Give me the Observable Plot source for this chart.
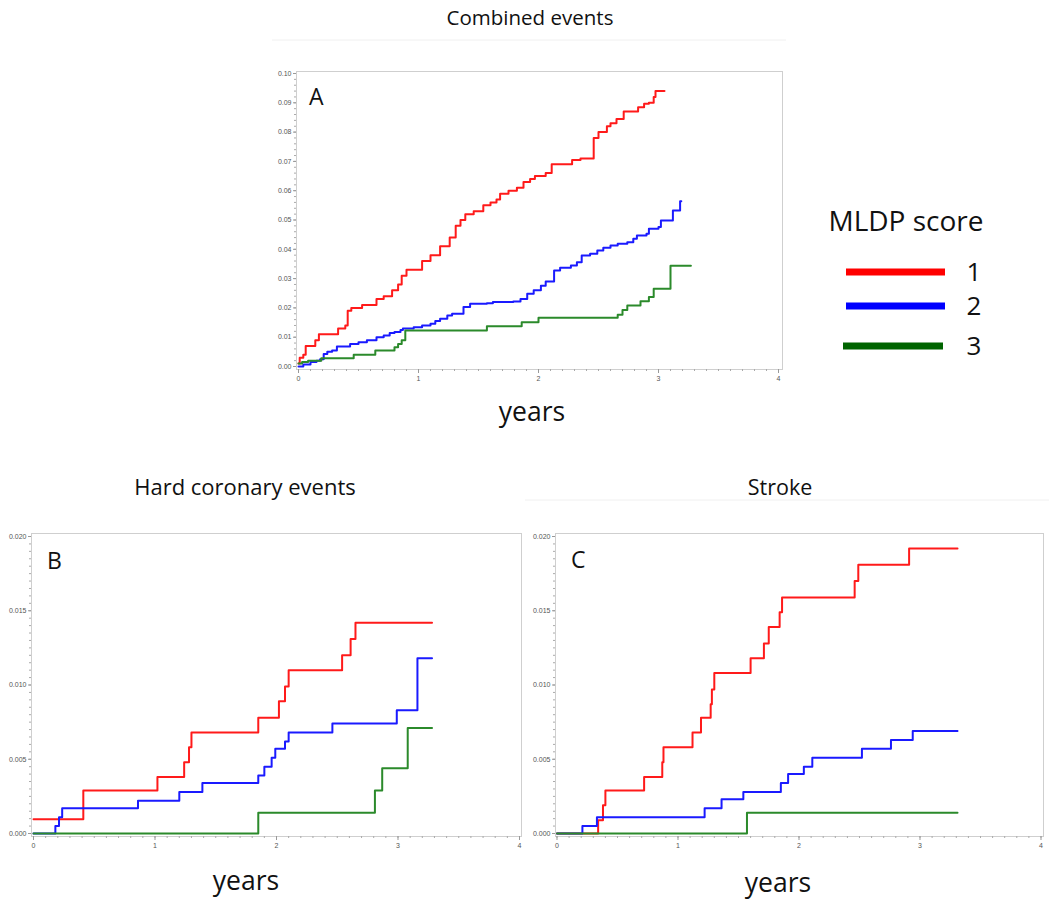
<!DOCTYPE html>
<html><head><meta charset="utf-8">
<script src="https://cdn.jsdelivr.net/npm/d3@7"></script>
<script src="https://cdn.jsdelivr.net/npm/@observablehq/plot@0.6"></script>
<style>
body{margin:0;background:#fff;}
#page{position:relative;width:1049px;height:900px;overflow:hidden;font-family:"Open Sans",sans-serif;background:#fff;}
.panel{position:absolute;}
#overlay{position:absolute;left:0;top:0;pointer-events:none;}
</style></head><body><div id="page"></div>
<script>
// ---------- data ----------
const groups = ["1", "2", "3"];
const lineColors = ["#ff1a1a", "#1a1aff", "#2b8a2b"];
const legendColors = ["#ff0000", "#0000ff", "#006400"];
const xTicks = [0, 1, 2, 3, 4];
const aYTicks = [0, 0.01, 0.02, 0.03, 0.04, 0.05, 0.06, 0.07, 0.08, 0.09, 0.10];
const bcYTicks = [0, 0.005, 0.010, 0.015, 0.020];

// Panel A: Combined events
const aRedT = [0, 0.01, 0.04, 0.06, 0.14, 0.17, 0.33, 0.39, 0.41, 0.44, 0.53, 0.65, 0.71, 0.78, 0.83, 0.86, 0.90, 1.03, 1.10, 1.18, 1.26, 1.31, 1.35, 1.39, 1.46, 1.54, 1.60, 1.65, 1.68, 1.75, 1.82, 1.875, 1.93, 1.97, 2.06, 2.11, 2.28, 2.35, 2.46, 2.50, 2.57, 2.60, 2.65, 2.71, 2.83, 2.88, 2.92, 2.96, 2.975, 3.05];
const aRedY = [0.001, 0.003, 0.004, 0.007, 0.009, 0.011, 0.013, 0.014, 0.019, 0.020, 0.021, 0.023, 0.024, 0.026, 0.028, 0.031, 0.033, 0.036, 0.038, 0.041, 0.044, 0.048, 0.050, 0.052, 0.053, 0.055, 0.056, 0.057, 0.059, 0.060, 0.061, 0.063, 0.064, 0.065, 0.066, 0.069, 0.0705, 0.071, 0.078, 0.080, 0.082, 0.083, 0.0845, 0.087, 0.0885, 0.0897, 0.090, 0.092, 0.094, 0.094];
const aBlueT = [0, 0.04, 0.10, 0.15, 0.18, 0.21, 0.24, 0.28, 0.32, 0.43, 0.50, 0.57, 0.65, 0.71, 0.76, 0.80, 0.85, 0.87, 0.96, 1.03, 1.10, 1.14, 1.18, 1.24, 1.28, 1.375, 1.43, 1.57, 1.62, 1.79, 1.85, 1.906, 1.96, 2.02, 2.06, 2.13, 2.18, 2.27, 2.32, 2.36, 2.43, 2.49, 2.54, 2.60, 2.66, 2.74, 2.79, 2.82, 2.90, 2.92, 3.00, 3.02, 3.12, 3.18, 3.19];
const aBlueY = [0, 0.0007, 0.0015, 0.002, 0.0025, 0.0043, 0.005, 0.0055, 0.0068, 0.0077, 0.0083, 0.009, 0.010, 0.0106, 0.0114, 0.0118, 0.0125, 0.013, 0.0134, 0.014, 0.0146, 0.0155, 0.0163, 0.0174, 0.018, 0.0203, 0.0214, 0.0216, 0.022, 0.0222, 0.023, 0.0248, 0.026, 0.0276, 0.029, 0.0328, 0.0337, 0.0345, 0.0356, 0.0379, 0.0385, 0.0396, 0.0405, 0.0413, 0.0419, 0.0424, 0.0436, 0.0447, 0.0453, 0.047, 0.0476, 0.0498, 0.0532, 0.0564, 0.0564];
const aGreenT = [0, 0.03, 0.08, 0.19, 0.46, 0.64, 0.80, 0.83, 0.86, 0.89, 1.57, 1.86, 2.00, 2.66, 2.70, 2.74, 2.85, 2.92, 2.96, 3.10, 3.27];
const aGreenY = [0.001, 0.0015, 0.002, 0.0028, 0.004, 0.0055, 0.0066, 0.0077, 0.009, 0.0123, 0.0137, 0.0151, 0.0166, 0.0177, 0.0193, 0.0208, 0.0223, 0.0237, 0.0265, 0.0344, 0.0344];

// Panel B: Hard coronary events
const bRedT = [0, 0.41, 1.02, 1.24, 1.28, 1.30, 1.85, 2.02, 2.07, 2.10, 2.54, 2.61, 2.65, 3.28];
const bRedY = [0.00096, 0.0029, 0.0038, 0.0048, 0.0058, 0.0068, 0.0078, 0.0089, 0.0099, 0.0110, 0.0120, 0.0131, 0.0142, 0.0142];
const bBlueT = [0, 0.18, 0.21, 0.236, 0.86, 1.20, 1.39, 1.85, 1.90, 1.96, 1.99, 2.07, 2.10, 2.46, 2.99, 3.16, 3.28];
const bBlueY = [0, 0.0005, 0.0011, 0.0017, 0.0022, 0.0028, 0.0034, 0.0039, 0.0045, 0.0051, 0.0057, 0.0062, 0.0068, 0.0074, 0.0083, 0.0118, 0.0118];
const bGreenT = [0, 1.85, 2.81, 2.87, 3.08, 3.28];
const bGreenY = [0, 0.0014, 0.0029, 0.0044, 0.0071, 0.0071];

// Panel C: Stroke
const cRedT = [0, 0.34, 0.38, 0.40, 0.72, 0.87, 0.88, 1.12, 1.19, 1.27, 1.28, 1.30, 1.60, 1.71, 1.75, 1.84, 1.86, 2.46, 2.49, 2.91, 3.31];
const cRedY = [0, 0.0009, 0.0019, 0.0029, 0.0038, 0.0048, 0.0058, 0.0068, 0.0078, 0.0087, 0.0097, 0.0108, 0.0118, 0.0128, 0.0139, 0.0149, 0.0159, 0.0170, 0.0181, 0.0192, 0.0192];
const cBlueT = [0, 0.21, 0.33, 1.22, 1.36, 1.54, 1.85, 1.91, 2.04, 2.11, 2.52, 2.76, 2.94, 3.31];
const cBlueY = [0, 0.0005, 0.0011, 0.0017, 0.0023, 0.0028, 0.0034, 0.0040, 0.0045, 0.0051, 0.0057, 0.0063, 0.0069, 0.0069];
const cGreenT = [0, 1.57, 3.31];
const cGreenY = [0, 0.0014, 0.0014];

// ---------- build ----------
function series(t, y, g) { return t.map((d, i) => ({t: d, v: y[i], g})); }
const page = document.getElementById("page");

function panel(o) {
  const data = [
    ...series(o.red[0], o.red[1], "1"),
    ...series(o.blue[0], o.blue[1], "2"),
    ...series(o.green[0], o.green[1], "3")
  ];
  const minorY = d3.range(0, Math.round(o.yMax / o.yMinor) + 1).map(i => i * o.yMinor);
  const minorX = d3.range(0, 41).map(i => i / 10);
  const chart = Plot.plot({
    width: o.width, height: o.height,
    marginLeft: o.m[0], marginTop: o.m[1], marginRight: o.m[2], marginBottom: o.m[3],
    insetLeft: o.ins[0], insetTop: o.ins[1], insetRight: o.ins[2], insetBottom: o.ins[3],
    style: {color: "#555", fontFamily: "Liberation Sans, Arial, sans-serif", background: "transparent"},
    x: {domain: [0, 4]},
    y: {domain: [0, o.yMax]},
    color: {domain: groups, range: lineColors},
    marks: [
      Plot.frame({stroke: "#cfcfcf", strokeWidth: 1}),
      Plot.axisY(minorY, {tickSize: 2, tickFormat: () => "", label: null, stroke: "#aaa"}),
      Plot.axisY(o.yTicks, {tickSize: 3, tickPadding: 2, fontSize: 7, tickFormat: d3.format(o.fmt), label: null, stroke: "#999"}),
      Plot.axisX(minorX, {tickSize: 2, tickFormat: () => "", label: null, stroke: "#aaa"}),
      Plot.axisX(xTicks, {tickSize: 4, tickPadding: 3, fontSize: 7, tickFormat: d3.format("d"), label: null, stroke: "#999"}),
      Plot.line(data, {x: "t", y: "v", z: "g", stroke: "g", curve: "step-after", strokeWidth: 2})
    ]
  });
  chart.classList.add("panel");
  chart.style.left = o.left + "px";
  chart.style.top = o.top + "px";
  page.appendChild(chart);
}

panel({left: 250, top: 55, width: 550, height: 345, m: [46, 16, 18, 31], ins: [2, 2, 4, 3],
  yMax: 0.10, yMinor: 0.002, yTicks: aYTicks, fmt: ".2f",
  red: [aRedT, aRedY], blue: [aBlueT, aBlueY], green: [aGreenT, aGreenY]});
panel({left: 0, top: 505, width: 525, height: 365, m: [31, 28, 4, 34], ins: [2, 3, 2, 3],
  yMax: 0.020, yMinor: 0.0005, yTicks: bcYTicks, fmt: ".3f",
  red: [bRedT, bRedY], blue: [bBlueT, bBlueY], green: [bGreenT, bGreenY]});
panel({left: 525, top: 505, width: 524, height: 365, m: [30, 28, 6, 34], ins: [1.5, 3, 2.5, 3],
  yMax: 0.020, yMinor: 0.0005, yTicks: bcYTicks, fmt: ".3f",
  red: [cRedT, cRedY], blue: [cBlueT, cBlueY], green: [cGreenT, cGreenY]});

// ---------- overlay text: titles, axis titles, panel letters, legend ----------
const NS = "http://www.w3.org/2000/svg";
const ov = document.createElementNS(NS, "svg");
ov.setAttribute("id", "overlay");
ov.setAttribute("width", 1049); ov.setAttribute("height", 900);
page.appendChild(ov);
function txt(s, x, y, size, anchor = "middle", fill = "#111") {
  const t = document.createElementNS(NS, "text");
  t.setAttribute("x", x); t.setAttribute("y", y);
  t.setAttribute("font-size", size); t.setAttribute("text-anchor", anchor);
  t.setAttribute("fill", fill); t.setAttribute("font-family", "Open Sans, sans-serif");
  t.textContent = s; ov.appendChild(t);
}
function ln(x1, y1, x2, y2, c, w) {
  const l = document.createElementNS(NS, "line");
  l.setAttribute("x1", x1); l.setAttribute("y1", y1); l.setAttribute("x2", x2); l.setAttribute("y2", y2);
  l.setAttribute("stroke", c); l.setAttribute("stroke-width", w); ov.appendChild(l);
}
// faint outer panel borders
ln(272, 40, 786, 40, "#f0f0f0", 1);
ln(525, 500, 1049, 500, "#f0f0f0", 1);

const titles = ["Combined events", "Hard coronary events", "Stroke"];
txt(titles[0], 530, 25, 20.5);
txt(titles[1], 245, 495, 22);
txt(titles[2], 780, 495, 21.5);
const xTitle = "years";
txt(xTitle, 532, 421, 26.5);
txt(xTitle, 246, 890, 26.5);
txt(xTitle, 778, 892, 26.5);
const panelLetters = ["A", "B", "C"];
txt(panelLetters[0], 309, 105, 23, "start");
txt(panelLetters[1], 47, 569, 23, "start");
txt(panelLetters[2], 571, 568, 23, "start");
// legend
const legendTitle = "MLDP score";
txt(legendTitle, 906, 231, 28);
const legY = [272, 306, 346];
groups.forEach((g, i) => {
  ln(i === 2 ? 843 : 846, legY[i], i === 2 ? 943 : 945, legY[i], legendColors[i], 7);
  txt(g, 974, legY[i] + 9, 26);
});
</script></body></html>
